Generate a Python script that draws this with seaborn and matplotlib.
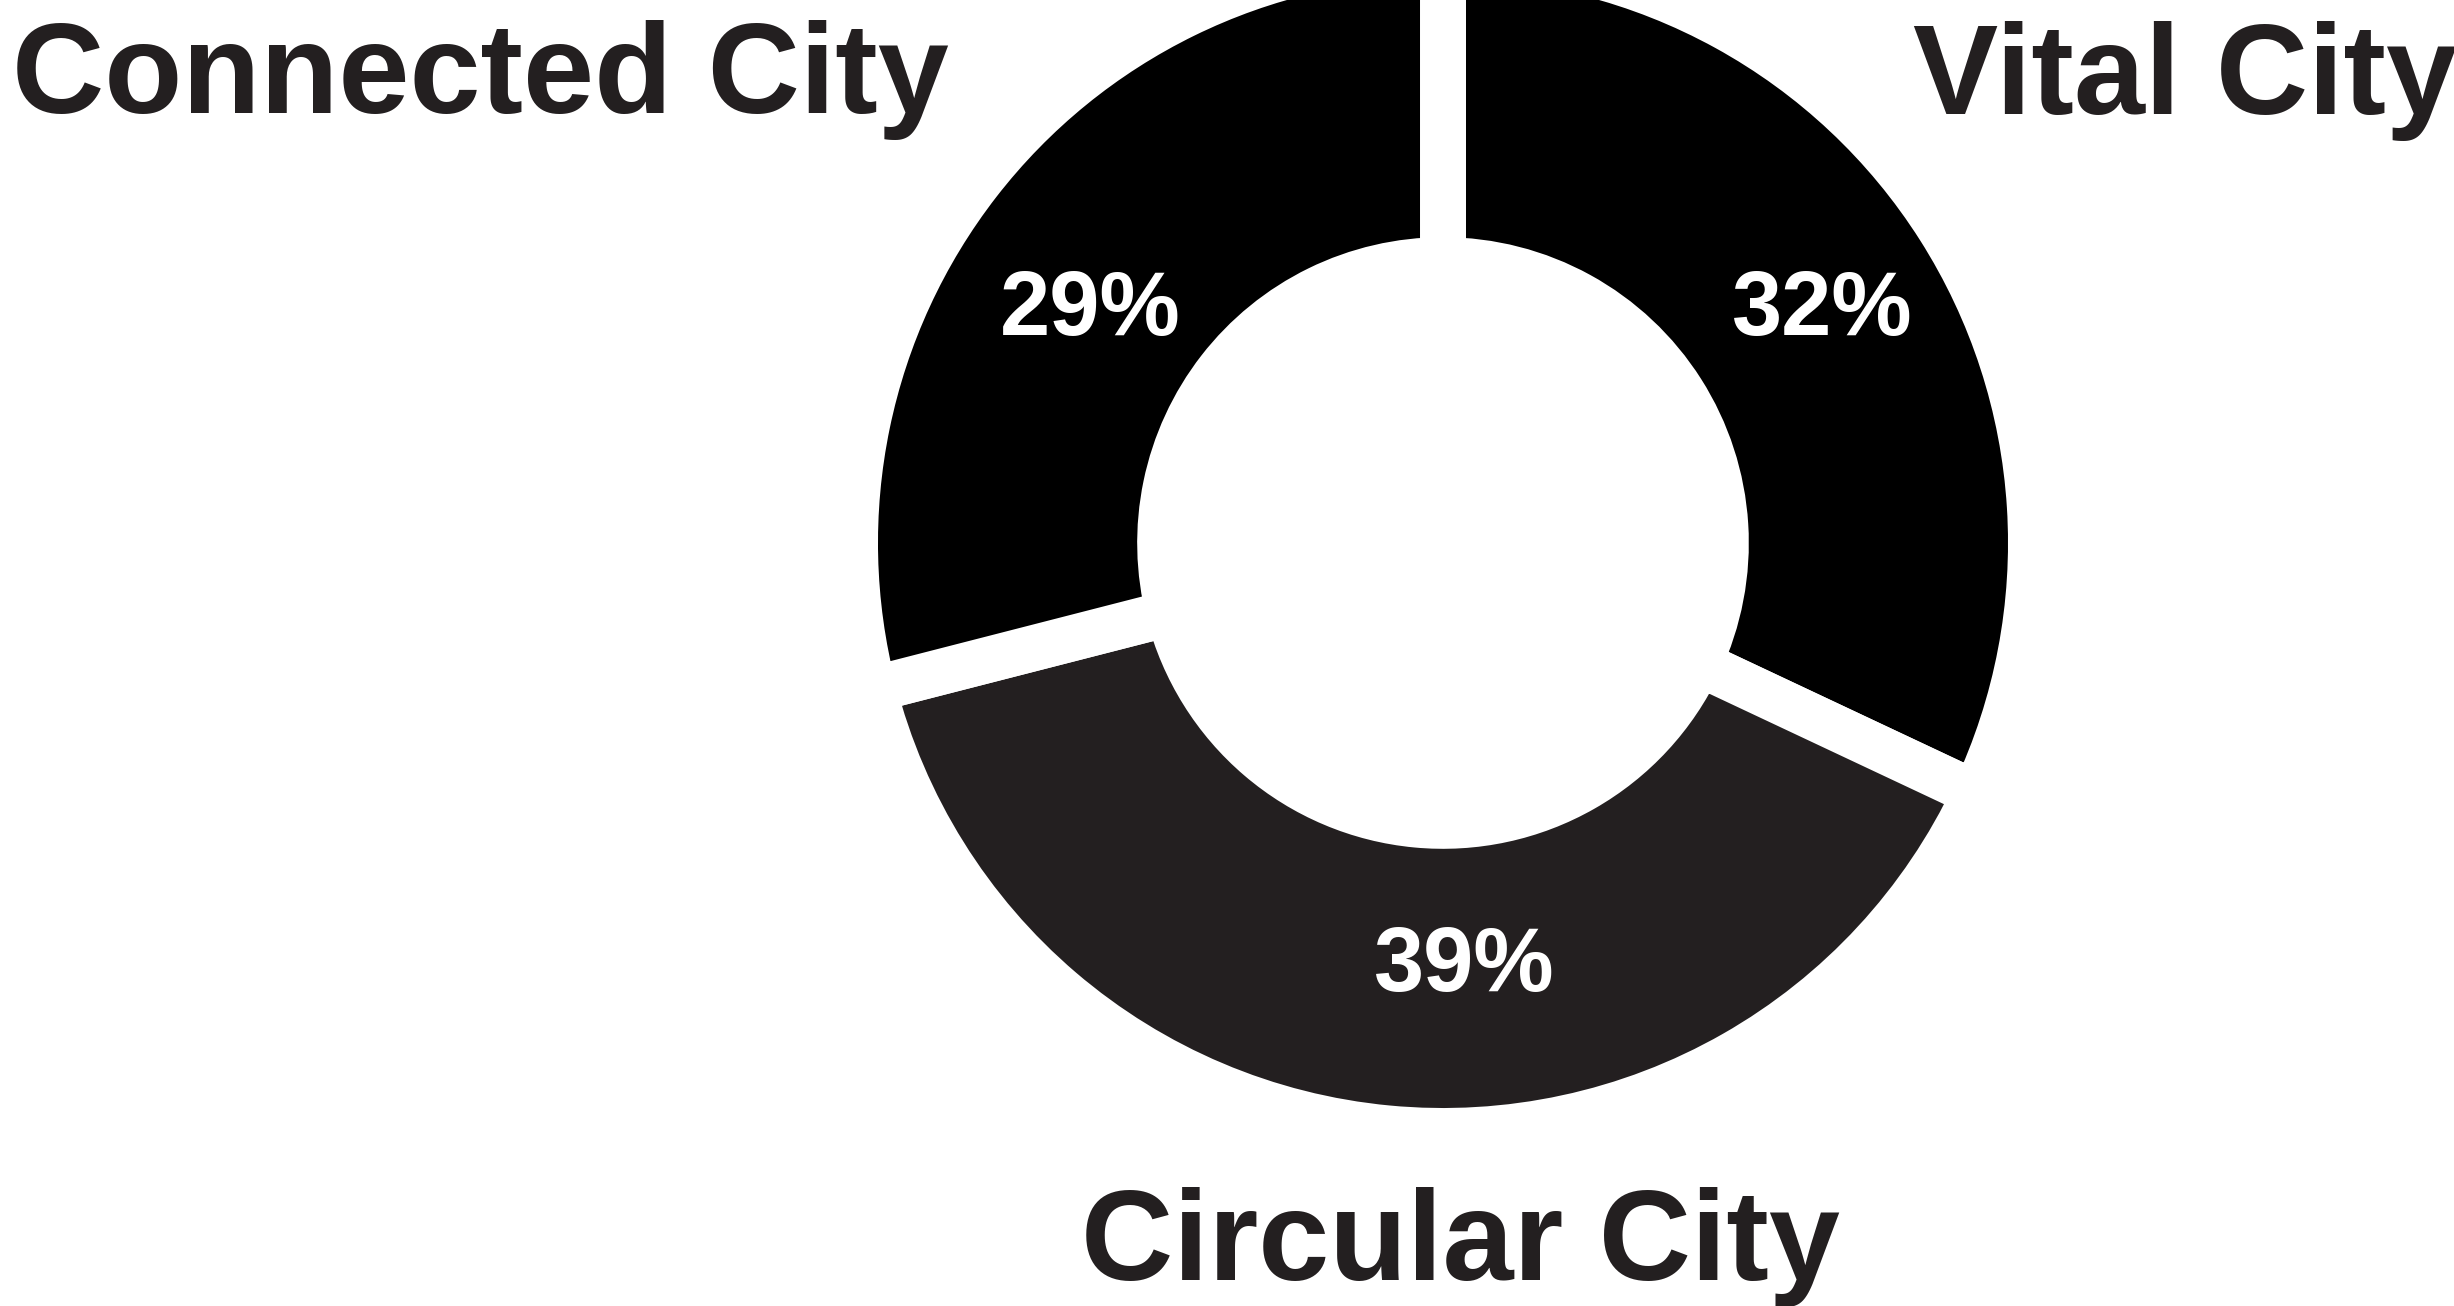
import matplotlib
matplotlib.use("Agg")
import matplotlib.pyplot as plt
import seaborn as sns

# Share of projects by city theme
categories = ["Vital City", "Circular City", "Connected City"]
shares = [32, 39, 29]
slice_colors = ["#000000", "#231f20", "#000000"]

sns.set_theme(style="white")
plt.rcParams["font.family"] = ["Liberation Sans", "DejaVu Sans"]

W, H, DPI = 2454, 1306, 100
fig = plt.figure(figsize=(W / DPI, H / DPI), dpi=DPI, facecolor="white")

# Donut geometry in pixels: centre and outer radius of the wedges
cx, cy, R = 1443, 543, 588
ax = fig.add_axes([(cx - R) / W, 1 - (cy + R) / H, 2 * R / W, 2 * R / H])

wedges, texts, autotexts = ax.pie(
    shares,
    colors=slice_colors,
    startangle=90,
    counterclock=False,
    radius=1.0,
    autopct=lambda p: f"{p:.0f}%",
    pctdistance=0.74,
    wedgeprops=dict(width=0.519, edgecolor="white", linewidth=33.1),
    textprops=dict(color="white", fontsize=65, fontweight="bold"),
)
ax.set_xlim(-1, 1)
ax.set_ylim(-1, 1)
ax.set_aspect("equal")
ax.axis("off")

# Percentage label placement (pixel baseline positions)
pct_pos = {"Vital City": (1822, 335), "Circular City": (1464, 991), "Connected City": (1090, 335)}
for cat, t in zip(categories, autotexts):
    px, py = pct_pos[cat]
    t.set_position(((px - cx) / R, (cy - py) / R))
    t.set_ha("center")
    t.set_va("baseline")

label_kw = dict(fontsize=92, fontweight="bold", color="#231f20", va="baseline")
fig.text(12 / W, 1 - 113 / H, "Connected City", ha="left", **label_kw)
fig.text(1913 / W, 1 - 114 / H, "Vital City", ha="left", **label_kw)
fig.text(1460 / W, 1 - 1280 / H, "Circular City", ha="center", **label_kw)

fig.savefig("out.png", dpi=DPI, facecolor="white")
